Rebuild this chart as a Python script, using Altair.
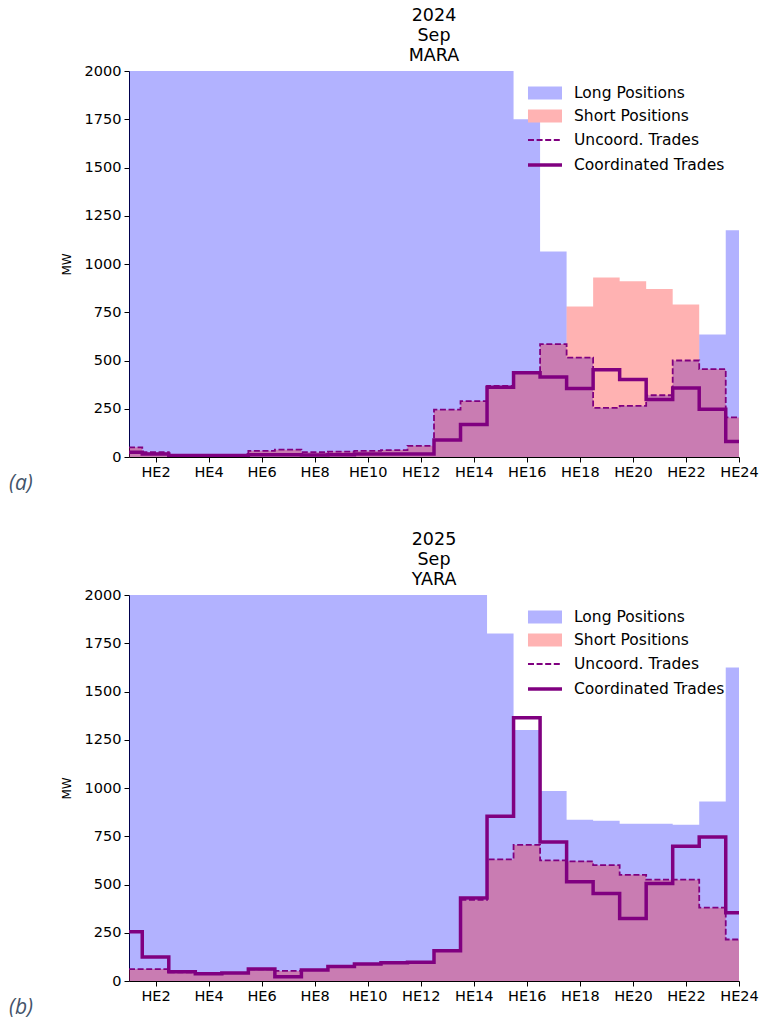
import altair as alt
import pandas as pd

# Hour-ending index shared by both panels
hours = list(range(1, 25))
tick_hours = list(range(2, 25, 2))
mw_ticks = list(range(0, 2001, 250))

# Series order used by the legend
legend_labels = ["Long Positions", "Short Positions", "Uncoord. Trades", "Coordinated Trades"]

# 2024 Sep, MARA (MW); long positions above 2000 sit at the axis limit
mara_long = [2000, 2000, 2000, 2000, 2000, 2000, 2000, 2000, 2000, 2000, 2000, 2000,
             2000, 2000, 2000, 1750, 1065, 515, 255, 265, 320, 500, 635, 1175]
mara_short = [50, 25, 8, 8, 8, 32, 38, 25, 28, 32, 36, 58,
              245, 290, 368, 435, 585, 780, 930, 910, 870, 790, 455, 205]
mara_uncoord = [50, 25, 8, 8, 8, 32, 38, 25, 28, 32, 36, 58,
                245, 290, 368, 435, 585, 515, 255, 265, 320, 500, 455, 205]
mara_coord = [25, 15, 8, 8, 8, 12, 12, 10, 12, 15, 15, 15,
              88, 168, 362, 437, 415, 355, 452, 402, 298, 358, 248, 80]

# 2025 Sep, YARA (MW)
yara_long = [2000, 2000, 2000, 2000, 2000, 2000, 2000, 2000, 2000, 2000, 2000, 2000,
             2000, 2000, 1800, 1300, 985, 835, 830, 815, 815, 810, 930, 1625]
yara_short = [62, 62, 45, 38, 42, 60, 52, 57, 75, 88, 95, 97,
              157, 420, 630, 705, 625, 620, 600, 550, 525, 525, 380, 215]
yara_uncoord = [62, 62, 45, 38, 42, 60, 52, 57, 75, 88, 95, 97,
                157, 420, 630, 705, 625, 620, 600, 550, 525, 525, 380, 215]
yara_coord = [255, 125, 48, 38, 42, 62, 22, 57, 75, 88, 95, 97,
              157, 430, 853, 1364, 720, 514, 453, 324, 505, 698, 746, 353]

FONT = "DejaVu Sans"
PURPLE = "#800080"
W, H = 610, 386
DASH = [6, 2.6]


def panel(title_lines, tag, long_mw, short_mw, uncoord_mw, coord_mw):
    df = pd.DataFrame({
        "hour": hours,
        "long": long_mw,
        "short": short_mw,
        "uncoord": uncoord_mw,
        "coord": coord_mw,
    })
    base = alt.Chart(df)

    x_axis = alt.Axis(values=tick_hours, labelExpr="'HE' + datum.value", title=None,
                      grid=False, tickSize=5, labelPadding=3, labelFontSize=14.5,
                      labelFont=FONT, labelColor="#000", tickColor="#000",
                      domainColor="#000", labelFlush=False)
    y_axis = alt.Axis(values=mw_ticks, format="d", title="MW", grid=False, tickSize=5,
                      labelPadding=3, labelFontSize=14.5, labelFont=FONT,
                      labelColor="#000", tickColor="#000", domainColor="#000",
                      titleFont=FONT, titleFontSize=12, titleFontWeight="normal",
                      titleColor="#000", titlePadding=11)
    x_scale = alt.Scale(domain=[1, 24], nice=False, zero=False)
    y_scale = alt.Scale(domain=[0, 2000], nice=False)

    def xenc():
        return alt.X("hour:Q", scale=x_scale, axis=x_axis)

    def yenc(field):
        return alt.Y(f"{field}:Q", scale=y_scale, axis=y_axis)

    long_area = base.mark_area(interpolate="step", color="#0000ff", opacity=0.3,
                               clip=True).encode(x=xenc(), y=yenc("long"))
    short_area = base.mark_area(interpolate="step", color="#ff0000", opacity=0.3,
                                clip=True).encode(x=xenc(), y=yenc("short"))
    uncoord_line = base.mark_line(interpolate="step", color=PURPLE, strokeWidth=1.8,
                                  strokeDash=DASH, clip=True).encode(
        x=xenc(), y=yenc("uncoord"))
    coord_line = base.mark_line(interpolate="step", color=PURPLE, strokeWidth=3.5,
                                clip=True).encode(x=xenc(), y=yenc("coord"))

    # Legend built from scales over the four series names
    legend = alt.Legend(title=None, orient="none", legendX=405, legendY=13,
                        labelFont=FONT, labelFontSize=15.5, labelColor="#000",
                        symbolSize=324, rowPadding=5, labelOffset=18,
                        symbolOpacity=1)
    patch = "M-1.89,-0.72H1.89V0.72H-1.89Z"
    stroke = "M-1.89,0H1.89"
    legend_df = pd.DataFrame({"series": legend_labels})
    legend_layer = alt.Chart(legend_df).mark_point(opacity=0).encode(
        fill=alt.Fill("series:N", legend=legend,
                      scale=alt.Scale(domain=legend_labels,
                                      range=["#b3b3ff", "#ffb3b3", "transparent", "transparent"])),
        stroke=alt.Stroke("series:N", legend=legend,
                          scale=alt.Scale(domain=legend_labels,
                                          range=["transparent", "transparent", PURPLE, PURPLE])),
        shape=alt.Shape("series:N", legend=legend,
                        scale=alt.Scale(domain=legend_labels,
                                        range=[patch, patch, stroke, stroke])),
        strokeDash=alt.StrokeDash("series:N", legend=legend,
                                  scale=alt.Scale(domain=legend_labels,
                                                  range=[[1, 0], [1, 0], DASH, [1, 0]])),
        strokeWidth=alt.StrokeWidth("series:O", legend=legend, sort=legend_labels,
                                    scale=alt.Scale(type="ordinal", domain=legend_labels,
                                                    range=[0, 0, 1.8, 3.5])),
    )

    tag_text = alt.Chart(pd.DataFrame({"tag": [tag]})).mark_text(
        align="left", baseline="middle", font="Open Sans", fontStyle="italic",
        fontSize=21, color="#44546a").encode(
        text="tag:N", x=alt.value(-120), y=alt.value(H + 27))

    return alt.layer(long_area, short_area, uncoord_line, coord_line,
                     legend_layer, tag_text).properties(
        width=W, height=H,
        title=alt.TitleParams(title_lines, fontSize=17.5, fontWeight="normal",
                              font=FONT, color="#000", lineHeight=20, offset=-1,
                              anchor="middle"))


top = panel(["2024", "Sep", "MARA"], "(a)", mara_long, mara_short, mara_uncoord, mara_coord)
bottom = panel(["2025", "Sep", "YARA"], "(b)", yara_long, yara_short, yara_uncoord, yara_coord)

chart = alt.vconcat(top, bottom, spacing=36).resolve_scale(
    fill="independent", stroke="independent", shape="independent",
    strokeDash="independent", strokeWidth="independent",
).properties(
    padding={"left": 9, "top": 6, "right": 0, "bottom": 4}
).configure_view(stroke=None)

chart.save("out.html", embed_options={"renderer": "svg", "actions": False})
